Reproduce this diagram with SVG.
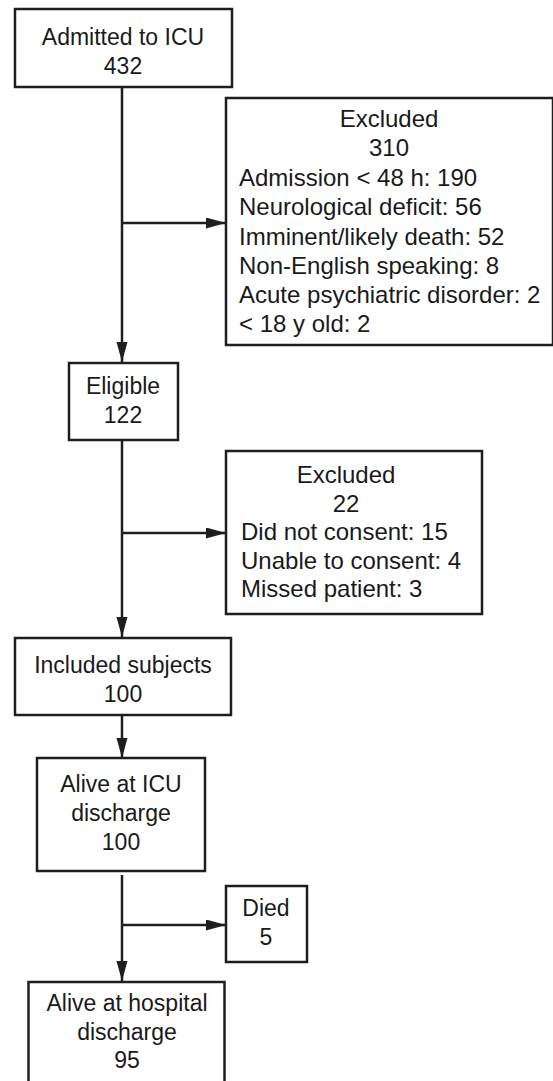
<svg xmlns="http://www.w3.org/2000/svg" width="553" height="1081" viewBox="0 0 553 1081">
<style>
.box{fill:#fff;stroke:#1e1e1e;stroke-width:2.5}
.t{font-family:"Liberation Sans",Arial,sans-serif;font-size:23px;fill:#1a1a1a}
.x{font-size:24px}
.c{text-anchor:middle}
.ln{stroke:#1e1e1e;stroke-width:2.5;fill:none}
</style>
<defs>
<marker id="ah" markerUnits="userSpaceOnUse" markerWidth="20" markerHeight="12" refX="20" refY="5.5" orient="auto">
<path d="M0,0 L20,5.5 L0,11 z" fill="#1e1e1e"/>
</marker>
</defs>
<rect width="553" height="1081" fill="#fff"/>
<g id="connectors">
<line class="ln" x1="122" y1="87" x2="122" y2="362" marker-end="url(#ah)"/>
<line class="ln" x1="122" y1="223" x2="226" y2="223" marker-end="url(#ah)"/>
<line class="ln" x1="122" y1="440" x2="122" y2="637" marker-end="url(#ah)"/>
<line class="ln" x1="122" y1="533" x2="226" y2="533" marker-end="url(#ah)"/>
<line class="ln" x1="122" y1="715" x2="122" y2="758" marker-end="url(#ah)"/>
<line class="ln" x1="122" y1="875" x2="122" y2="981" marker-end="url(#ah)"/>
<line class="ln" x1="122" y1="925" x2="226" y2="925" marker-end="url(#ah)"/>
</g>
<g id="admitted">
<rect class="box" x="15" y="9" width="217" height="78"/>
<text class="t c" x="123" y="45">Admitted to ICU</text>
<text class="t c" x="123" y="73.5">432</text>
</g>
<g id="excluded1">
<rect class="box" x="226" y="98" width="327" height="247"/>
<text class="t x c" x="389" y="126.5">Excluded</text>
<text class="t x c" x="389" y="155.8">310</text>
<text class="t x" x="239" y="185.5">Admission &lt; 48 h: 190</text>
<text class="t x" x="239" y="215">Neurological deficit: 56</text>
<text class="t x" x="239" y="244.5">Imminent/likely death: 52</text>
<text class="t x" x="239" y="274">Non-English speaking: 8</text>
<text class="t x" x="239" y="303">Acute psychiatric disorder: 2</text>
<text class="t x" x="239" y="332">&lt; 18 y old: 2</text>
</g>
<g id="eligible">
<rect class="box" x="69" y="363" width="109" height="77"/>
<text class="t c" x="123" y="394">Eligible</text>
<text class="t c" x="123" y="422.7">122</text>
</g>
<g id="excluded2">
<rect class="box" x="226" y="451" width="256" height="163"/>
<text class="t x c" x="346" y="483">Excluded</text>
<text class="t x c" x="346" y="512">22</text>
<text class="t x" x="241" y="540">Did not consent: 15</text>
<text class="t x" x="241" y="568.7">Unable to consent: 4</text>
<text class="t x" x="241" y="597.3">Missed patient: 3</text>
</g>
<g id="included">
<rect class="box" x="15" y="638" width="216" height="77"/>
<text class="t c" x="123" y="672.7">Included subjects</text>
<text class="t c" x="123" y="701.7">100</text>
</g>
<g id="alive-icu">
<rect class="box" x="37" y="758" width="168" height="113"/>
<text class="t c" x="121" y="791.7">Alive at ICU</text>
<text class="t c" x="121" y="820.5">discharge</text>
<text class="t c" x="121" y="849.5">100</text>
</g>
<g id="died">
<rect class="box" x="226" y="886" width="81" height="76"/>
<text class="t c" x="266" y="916">Died</text>
<text class="t c" x="266" y="945">5</text>
</g>
<g id="alive-hospital">
<rect class="box" x="28.5" y="982" width="196" height="110"/>
<text class="t c" x="127" y="1010.5">Alive at hospital</text>
<text class="t c" x="127" y="1039.5">discharge</text>
<text class="t c" x="127" y="1068.3">95</text>
</g>
</svg>
